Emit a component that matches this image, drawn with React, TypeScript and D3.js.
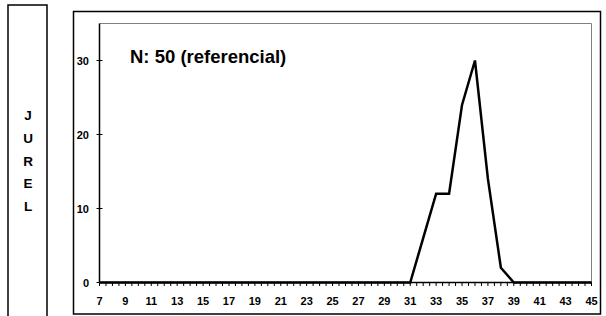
import React, { useEffect, useRef } from 'react';
import * as d3 from 'd3';

// length classes (cm) and frequency (%)
const lengths = d3.range(7, 46);
const freqs = [
  0, 0, 0, 0, 0, 0, 0, 0, 0, 0, // 7-16
  0, 0, 0, 0, 0, 0, 0, 0, 0, 0, // 17-26
  0, 0, 0, 0, 0, 6, 12, 12, 24, 30, // 27-36
  14, 2, 0, 0, 0, 0, 0, 0, 0, // 37-45
];
const xLabels = d3.range(7, 46, 2);
const yTicks = [0, 10, 20, 30];
const sideLabel = ['J', 'U', 'R', 'E', 'L'];
const title = 'N: 50 (referencial)';

const W = 606;
const H = 316;

const App: React.FC = () => {
  const svgRef = useRef<SVGSVGElement>(null);

  useEffect(() => {
    if (!svgRef.current) return;
    const svg = d3.select(svgRef.current);
    svg.selectAll('*').remove();

    const font = 'Arial, "Liberation Sans", sans-serif';

    // plot area
    const left = 99.5;
    const right = 591.5;
    const top = 23.5;
    const bottom = 282.5;

    const x = d3.scaleLinear().domain([7, 45]).range([left, right]);
    const y = d3.scaleLinear().domain([0, 35]).range([bottom, top]);

    // side box with species name
    svg.append('rect')
      .attr('x', 8).attr('y', 5)
      .attr('width', 39).attr('height', H + 10)
      .attr('fill', 'none').attr('stroke', '#000').attr('stroke-width', 1.5);

    svg.append('g')
      .selectAll('text')
      .data(sideLabel)
      .enter()
      .append('text')
      .attr('x', 28)
      .attr('y', (d, i) => 120 + i * 22.8)
      .attr('text-anchor', 'middle')
      .attr('font-family', font)
      .attr('font-weight', 'bold')
      .attr('font-size', '13.5px')
      .text(d => d);

    // outer chart box
    svg.append('rect')
      .attr('x', 73.5).attr('y', 11.5)
      .attr('width', 527).attr('height', 302.5)
      .attr('fill', 'none').attr('stroke', '#000').attr('stroke-width', 1.5);

    // plot frame (top / right in grey)
    svg.append('path')
      .attr('d', `M${left},${top}H${right}V${bottom}`)
      .attr('fill', 'none').attr('stroke', '#808080').attr('stroke-width', 1);

    // y axis
    svg.append('line')
      .attr('x1', left).attr('x2', left).attr('y1', top).attr('y2', bottom)
      .attr('stroke', '#000').attr('stroke-width', 1.5);

    const yg = svg.append('g');
    yg.selectAll('line')
      .data(yTicks)
      .enter()
      .append('line')
      .attr('x1', left - 3).attr('x2', left + 3)
      .attr('y1', d => y(d)).attr('y2', d => y(d))
      .attr('stroke', '#000').attr('stroke-width', 1);
    yg.selectAll('text')
      .data(yTicks)
      .enter()
      .append('text')
      .attr('x', 89)
      .attr('y', d => y(d) + 4)
      .attr('text-anchor', 'end')
      .attr('font-family', font)
      .attr('font-weight', 'bold')
      .attr('font-size', '11px')
      .text(d => d);

    // x axis
    svg.append('line')
      .attr('x1', left).attr('x2', right).attr('y1', bottom).attr('y2', bottom)
      .attr('stroke', '#000').attr('stroke-width', 1.5);

    const xg = svg.append('g');
    xg.selectAll('line')
      .data(d3.range(7, 45.01, 0.5))
      .enter()
      .append('line')
      .attr('x1', d => x(d)).attr('x2', d => x(d))
      .attr('y1', bottom).attr('y2', bottom + 3.5)
      .attr('stroke', '#000').attr('stroke-width', 1);
    xg.selectAll('text')
      .data(xLabels)
      .enter()
      .append('text')
      .attr('x', d => x(d))
      .attr('y', 305)
      .attr('text-anchor', 'middle')
      .attr('font-family', font)
      .attr('font-weight', 'bold')
      .attr('font-size', '11px')
      .text(d => d);

    // frequency line
    const line = d3.line<number>()
      .x((d, i) => x(lengths[i]))
      .y(d => y(d));
    svg.append('path')
      .datum(freqs)
      .attr('d', line)
      .attr('fill', 'none')
      .attr('stroke', '#000')
      .attr('stroke-width', 2.5)
      .attr('stroke-linejoin', 'miter');

    // title
    svg.append('text')
      .attr('x', 130)
      .attr('y', 62.5)
      .attr('font-family', font)
      .attr('font-weight', 'bold')
      .attr('font-size', '18.5px')
      .text(title);
  }, []);

  return (
    <div style={{ position: 'absolute', left: 0, top: 0 }}>
      <svg ref={svgRef} width={W} height={H} style={{ display: 'block', background: '#fff' }}></svg>
    </div>
  );
};

export default App;
